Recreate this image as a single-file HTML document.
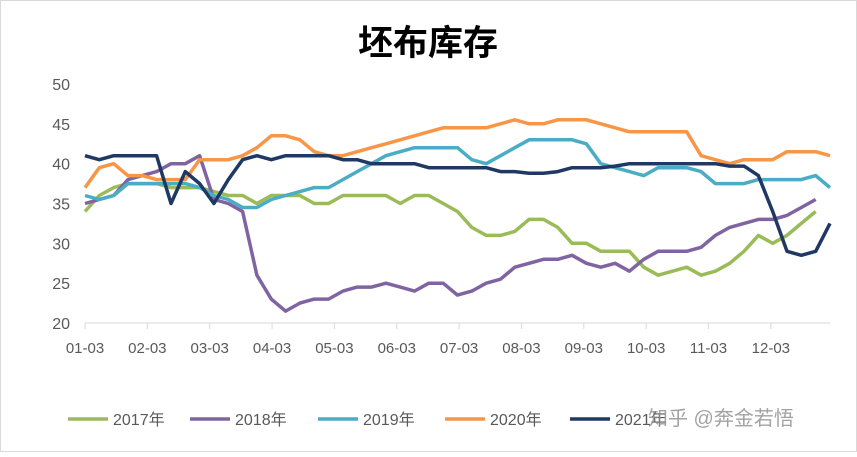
<!DOCTYPE html>
<html><head><meta charset="utf-8"><style>
body{margin:0;background:#fff;}
svg text{font-family:"Liberation Sans","Noto Sans CJK SC",sans-serif;}
</style></head><body>
<svg width="857" height="452">
<rect x="0.5" y="0.5" width="856" height="451" fill="#fff" stroke="#d9d9d9"/>
<text x="428" y="55" text-anchor="middle" font-size="35" font-weight="bold" fill="#000">坯布库存</text>
<g id="axes"></g><g id="series"></g><g id="legend"></g>
<text x="648" y="425" font-size="20" fill="#8c8c8c" opacity="0.8">知乎 @奔金若悟</text>
</svg>
<script>
const xLabels=["01-03","02-03","03-03","04-03","05-03","06-03","07-03","08-03","09-03","10-03","11-03","12-03"];
const yTicks=[20,25,30,35,40,45,50];
const seriesNames=["2017年","2018年","2019年","2020年","2021年"];
const colors=["#9bbb59","#8064a2","#4bacc6","#f79646","#1f3864"];
const s2017=[34,36,37,37.5,37.5,37.5,37,37,37,36.5,36,36,35,36,36,36,35,35,36,36,36,36,35,36,36,35,34,32,31,31,31.5,33,33,32,30,30,29,29,29,27,26,26.5,27,26,26.5,27.5,29,31,30,31,32.5,34];
const s2018=[35,35.5,36,38,38.5,39,40,40,41,35.5,35,34,26,23,21.5,22.5,23,23,24,24.5,24.5,25,24.5,24,25,25,23.5,24,25,25.5,27,27.5,28,28,28.5,27.5,27,27.5,26.5,28,29,29,29,29.5,31,32,32.5,33,33,33.5,34.5,35.5];
const s2019=[36,35.5,36,37.5,37.5,37.5,37.5,37.5,37,36,35.5,34.5,34.5,35.5,36,36.5,37,37,38,39,40,41,41.5,42,42,42,42,40.5,40,41,42,43,43,43,43,42.5,40,39.5,39,38.5,39.5,39.5,39.5,39,37.5,37.5,37.5,38,38,38,38,38.5,37];
const s2020=[37,39.5,40,38.5,38.5,38,38,38,40.5,40.5,40.5,41,42,43.5,43.5,43,41.5,41,41,41.5,42,42.5,43,43.5,44,44.5,44.5,44.5,44.5,45,45.5,45,45,45.5,45.5,45.5,45,44.5,44,44,44,44,44,41,40.5,40,40.5,40.5,40.5,41.5,41.5,41.5,41];
const s2021=[41,40.5,41,41,41,41,35,39,37.5,35,38,40.5,41,40.5,41,41,41,41,40.5,40.5,40,40,40,40,39.5,39.5,39.5,39.5,39.5,39,39,38.8,38.8,39,39.5,39.5,39.5,39.7,40,40,40,40,40,40,40,39.7,39.7,38.5,34,29,28.5,29,32.5];
const allSeries=[s2017,s2018,s2019,s2020,s2021];
const NS="http://www.w3.org/2000/svg";
const x0=85,x1=830,y0=323,y1=84;
const xs=i=>x0+i*(x1-x0)/52;
const ys=v=>y0-(v-20)*(y0-y1)/30;
const mk=(t,a,p)=>{const e=document.createElementNS(NS,t);for(const k in a)e.setAttribute(k,a[k]);p.appendChild(e);return e;};
const ax=document.getElementById('axes');
yTicks.forEach(v=>{const t=mk('text',{x:70,y:ys(v)+6,'text-anchor':'end','font-size':16,fill:'#595959'},ax);t.textContent=v;

});
const al=mk('line',{x1:x0,x2:x1,y1:y0,y2:y0,stroke:'#d9d9d9','stroke-width':1},ax);


xLabels.forEach((l,i)=>{const x=x0+i*62.35;
const tk=mk('line',{x1:x,x2:x,y1:y0,y2:y0+6,stroke:'#d9d9d9'},ax);


const t=mk('text',{x:x,y:y0+30,'text-anchor':'middle','font-size':15,fill:'#595959'},ax);t.textContent=l;

});
const sg=document.getElementById('series');
allSeries.forEach((s,k)=>{const d=s.map((v,i)=>(i?'L':'M')+xs(i).toFixed(1)+','+ys(v).toFixed(1)).join('');
const p=mk('path',{d:d,fill:'none',stroke:colors[k],'stroke-width':3.5,'stroke-linejoin':'round'},sg);

});
const lg=document.getElementById('legend');
const lx=[68,190,318,445,570];
seriesNames.forEach((n,k)=>{const g=mk('g',{},lg);


mk('line',{x1:lx[k],x2:lx[k]+40,y1:419,y2:419,stroke:colors[k],'stroke-width':3.5},g);
const t=mk('text',{x:lx[k]+45,y:425,'font-size':16,fill:'#595959'},g);t.textContent=n;});
</script>
</body></html>
